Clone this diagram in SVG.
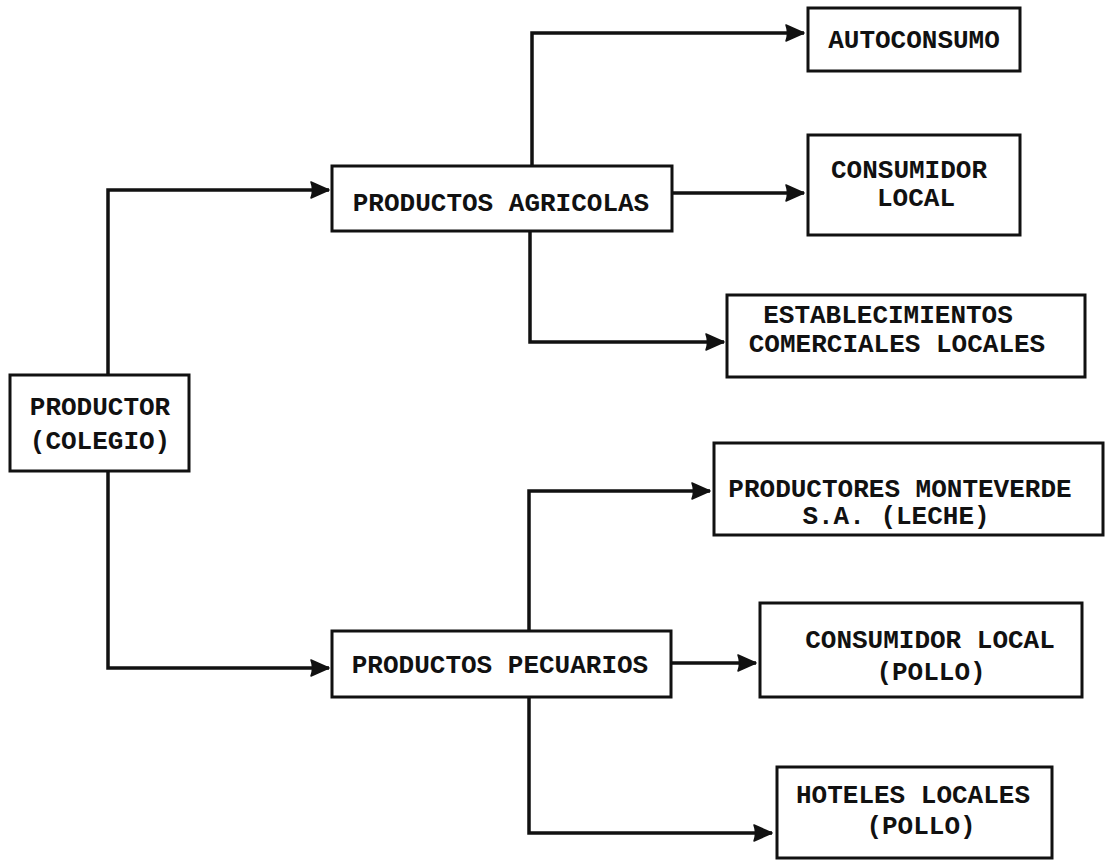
<svg xmlns="http://www.w3.org/2000/svg" width="1115" height="862" viewBox="0 0 1115 862">
<style>
.box{fill:#fff;stroke:#111;stroke-width:3}
.t{font-family:"Liberation Mono","DejaVu Sans Mono",monospace;font-weight:bold;font-size:26px;fill:#111;text-anchor:middle}
.c{fill:none;stroke:#111;stroke-width:3.5;stroke-linejoin:miter}
</style>
<defs>
<marker id="ah" markerUnits="userSpaceOnUse" viewBox="0 0 20 18" markerWidth="20" markerHeight="18" refX="19" refY="9" orient="auto">
<path d="M1,1 L19,9 L1,17 Q4,9 1,1 Z" fill="#111" stroke="#111" stroke-width="1.5" stroke-linejoin="round"/>
</marker>
</defs>
<rect width="1115" height="862" fill="#fff"/>
<g id="connectors">
<path class="c" d="M108,375 V190 H329" marker-end="url(#ah)"/>
<path class="c" d="M108,471 V668 H329" marker-end="url(#ah)"/>
<path class="c" d="M532,166 V33 H804" marker-end="url(#ah)"/>
<path class="c" d="M672,193 H804" marker-end="url(#ah)"/>
<path class="c" d="M530,231 V342 H724" marker-end="url(#ah)"/>
<path class="c" d="M529,631 V491 H710" marker-end="url(#ah)"/>
<path class="c" d="M671,663 H756" marker-end="url(#ah)"/>
<path class="c" d="M529,697 V833 H772" marker-end="url(#ah)"/>
</g>
<g id="productor">
<rect class="box" x="10" y="375" width="179" height="96"/>
<text class="t" x="100" y="415">PRODUCTOR</text>
<text class="t" x="100" y="449">(COLEGIO)</text>
</g>
<g id="agricolas">
<rect class="box" x="332" y="166" width="340" height="65"/>
<text class="t" x="501" y="211">PRODUCTOS AGRICOLAS</text>
</g>
<g id="pecuarios">
<rect class="box" x="332" y="631" width="339" height="66"/>
<text class="t" x="500" y="673">PRODUCTOS PECUARIOS</text>
</g>
<g id="autoconsumo">
<rect class="box" x="808" y="8" width="212" height="63"/>
<text class="t" x="914" y="48">AUTOCONSUMO</text>
</g>
<g id="consumidor-local">
<rect class="box" x="808" y="135" width="212" height="100"/>
<text class="t" x="909" y="178">CONSUMIDOR</text>
<text class="t" x="916" y="206">LOCAL</text>
</g>
<g id="establecimientos">
<rect class="box" x="727" y="295" width="358" height="82"/>
<text class="t" x="888" y="323">ESTABLECIMIENTOS</text>
<text class="t" x="897" y="352">COMERCIALES LOCALES</text>
</g>
<g id="monteverde">
<rect class="box" x="714" y="443" width="389" height="92"/>
<text class="t" x="900" y="497">PRODUCTORES MONTEVERDE</text>
<text class="t" x="896" y="524">S.A. (LECHE)</text>
</g>
<g id="consumidor-pollo">
<rect class="box" x="760" y="603" width="322" height="94"/>
<text class="t" x="930" y="648">CONSUMIDOR LOCAL</text>
<text class="t" x="931" y="680">(POLLO)</text>
</g>
<g id="hoteles">
<rect class="box" x="777" y="767" width="275" height="91"/>
<text class="t" x="913" y="803">HOTELES LOCALES</text>
<text class="t" x="921" y="834">(POLLO)</text>
</g>
</svg>
